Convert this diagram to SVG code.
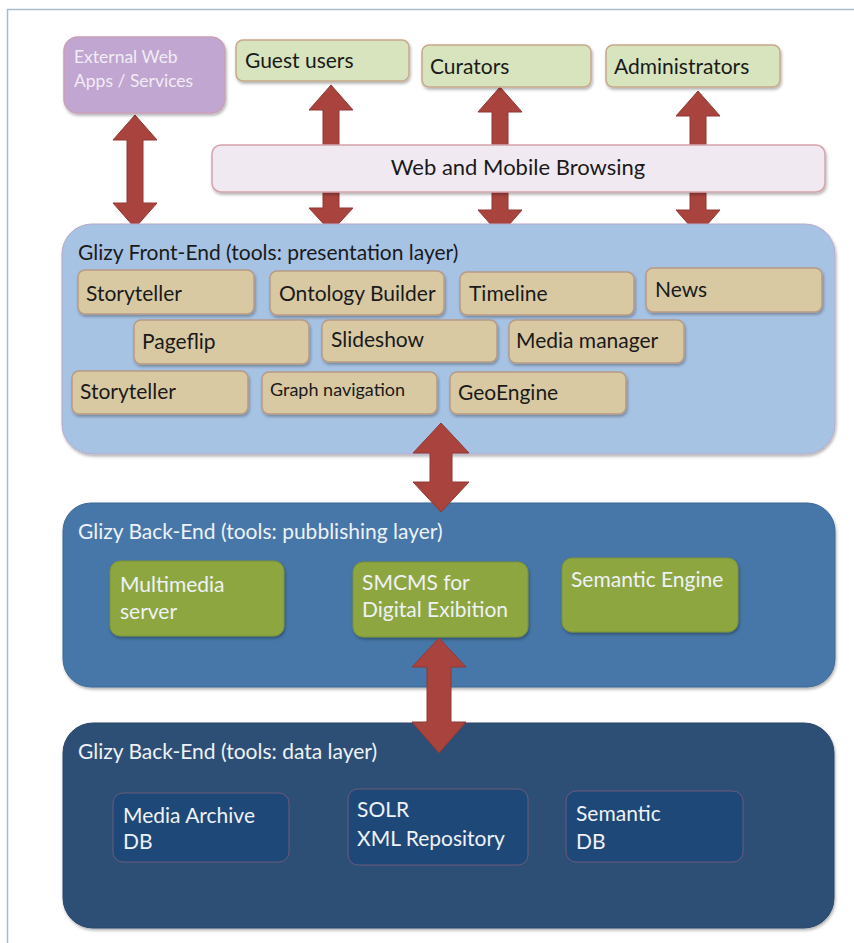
<svg xmlns="http://www.w3.org/2000/svg" width="854" height="943" viewBox="0 0 854 943">
<defs>
<filter id="sh" x="-10%" y="-10%" width="130%" height="140%">
<feDropShadow dx="1" dy="2" stdDeviation="1.5" flood-color="#000" flood-opacity="0.3"/>
</filter>
<style>
text{font-family:Lato,"Liberation Sans",Arial,sans-serif;}
.user{fill:#d7e4bd;stroke:#c8a88a;stroke-width:1.5;}
.tool{fill:#d8c9a3;stroke:#b79a86;stroke-width:1.5;}
.pub{fill:#8ea63f;stroke:#7c9236;stroke-width:1;}
.db{fill:#1e4878;stroke:#6a5a7a;stroke-width:1;}
.dark{fill:#1a1a1a;font-size:21px;}
.lite{fill:#eef2f7;font-size:21px;}
.arrow{fill:#a9433d;stroke:#923833;stroke-width:1;}
</style>
</defs>
<rect x="0" y="0" width="854" height="943" fill="#ffffff"/>
<path d="M854 9.5 H7.5 V943" fill="none" stroke="#a9bccc" stroke-width="1.5"/>

<g id="connectors">
<polygon class="arrow" points="135,115 157,140 143,140 143,203 157,203 135,228 113,203 127,203 127,140 113,140"/>
<polygon class="arrow" points="331,85 353,110 339,110 339,208 353,208 331,232 309,208 323,208 323,110 309,110"/>
<polygon class="arrow" points="500,87 522,112 508,112 508,210 522,210 500,235 478,210 492,210 492,112 478,112"/>
<polygon class="arrow" points="698,91 720,116 706,116 706,210 720,210 698,235 676,210 690,210 690,116 676,116"/>
</g>

<g id="external">
<rect x="64" y="37" width="161" height="76" rx="14" fill="#c0a6d0" stroke="#c9a0b8" stroke-width="1.5" filter="url(#sh)"/>
<text x="74" y="63" font-size="17.5" fill="#f2ecf6">External Web</text>
<text x="74" y="87" font-size="17.5" fill="#f2ecf6">Apps / Services</text>
</g>
<g id="guest">
<rect class="user" x="236" y="40" width="173" height="41" rx="7" filter="url(#sh)"/>
<text class="dark" x="245" y="68">Guest users</text>
</g>
<g id="curators">
<rect class="user" x="422" y="45" width="169" height="42" rx="7" filter="url(#sh)"/>
<text class="dark" x="430" y="74">Curators</text>
</g>
<g id="administrators">
<rect class="user" x="606" y="45" width="174" height="42" rx="7" filter="url(#sh)"/>
<text class="dark" x="614" y="74">Administrators</text>
</g>
<g id="browsing">
<rect x="212" y="145" width="613" height="47" rx="9" fill="#f1e9f1" stroke="#d4a4ac" stroke-width="1.5" filter="url(#sh)"/>
<text class="dark" x="518" y="175" text-anchor="middle" style="font-size:22px">Web and Mobile Browsing</text>
</g>

<g id="frontend">
<rect x="62" y="224" width="773" height="230" rx="30" fill="#a7c3e4" stroke="#b8a8c8" stroke-width="1" filter="url(#sh)"/>
<text class="dark" x="78" y="260">Glizy Front-End (tools: presentation layer)</text>
</g>
<g id="storyteller1"><rect class="tool" x="78" y="270" width="176" height="44" rx="7" filter="url(#sh)"/><text class="dark" x="86" y="301">Storyteller</text></g>
<g id="ontology"><rect class="tool" x="270" y="271" width="174" height="44" rx="7" filter="url(#sh)"/><text class="dark" x="279" y="301">Ontology Builder</text></g>
<g id="timeline"><rect class="tool" x="460" y="272" width="174" height="43" rx="7" filter="url(#sh)"/><text class="dark" x="469" y="301">Timeline</text></g>
<g id="news"><rect class="tool" x="646" y="268" width="176" height="44" rx="7" filter="url(#sh)"/><text class="dark" x="655" y="297">News</text></g>
<g id="pageflip"><rect class="tool" x="134" y="320" width="175" height="44" rx="7" filter="url(#sh)"/><text class="dark" x="142" y="349">Pageflip</text></g>
<g id="slideshow"><rect class="tool" x="322" y="320" width="175" height="42" rx="7" filter="url(#sh)"/><text class="dark" x="331" y="347">Slideshow</text></g>
<g id="mediamanager"><rect class="tool" x="509" y="320" width="175" height="43" rx="7" filter="url(#sh)"/><text class="dark" x="516" y="348">Media manager</text></g>
<g id="storyteller2"><rect class="tool" x="72" y="371" width="176" height="43" rx="7" filter="url(#sh)"/><text class="dark" x="80" y="399">Storyteller</text></g>
<g id="graphnav"><rect class="tool" x="262" y="372" width="175" height="42" rx="7" filter="url(#sh)"/><text class="dark" x="270" y="396" style="font-size:18px">Graph navigation</text></g>
<g id="geoengine"><rect class="tool" x="450" y="372" width="176" height="42" rx="7" filter="url(#sh)"/><text class="dark" x="458" y="400">GeoEngine</text></g>

<g id="publishing">
<rect x="63" y="503" width="772" height="184" rx="28" fill="#4777a8" stroke="#3d6894" stroke-width="1" filter="url(#sh)"/>
<text class="lite" x="78" y="539">Glizy Back-End (tools: pubblishing layer)</text>
</g>
<g id="multimedia"><rect class="pub" x="110" y="561" width="174" height="75" rx="10" filter="url(#sh)"/><text class="lite" x="120" y="592">Multimedia</text><text class="lite" x="120" y="619">server</text></g>
<g id="smcms"><rect class="pub" x="353" y="562" width="175" height="75" rx="10" filter="url(#sh)"/><text class="lite" x="362" y="590">SMCMS for</text><text class="lite" x="362" y="617">Digital Exibition</text></g>
<g id="semanticengine"><rect class="pub" x="562" y="558" width="176" height="74" rx="10" filter="url(#sh)"/><text class="lite" x="571" y="587">Semantic Engine</text></g>

<g id="datalayer">
<rect x="63" y="723" width="771" height="205" rx="30" fill="#2f5075" stroke="#2a4668" stroke-width="1" filter="url(#sh)"/>
<text class="lite" x="78" y="759">Glizy Back-End (tools: data layer)</text>
</g>
<g id="mediaarchive"><rect class="db" x="113" y="793" width="176" height="69" rx="10"/><text class="lite" x="123" y="823">Media Archive</text><text class="lite" x="123" y="849">DB</text></g>
<g id="solr"><rect class="db" x="348" y="789" width="180" height="76" rx="10"/><text class="lite" x="357" y="817">SOLR</text><text class="lite" x="357" y="846">XML Repository</text></g>
<g id="semanticdb"><rect class="db" x="566" y="791" width="177" height="71" rx="10"/><text class="lite" x="576" y="821">Semantic</text><text class="lite" x="576" y="849">DB</text></g>

<g id="connectors2">
<polygon class="arrow" points="441,423 469,453 452,453 452,482 469,482 441,512 413,482 430,482 430,453 413,453"/>
<polygon class="arrow" points="439,638 466,667 451,667 451,722 466,722 439,753 412,722 427,722 427,667 412,667"/>
</g>
</svg>
